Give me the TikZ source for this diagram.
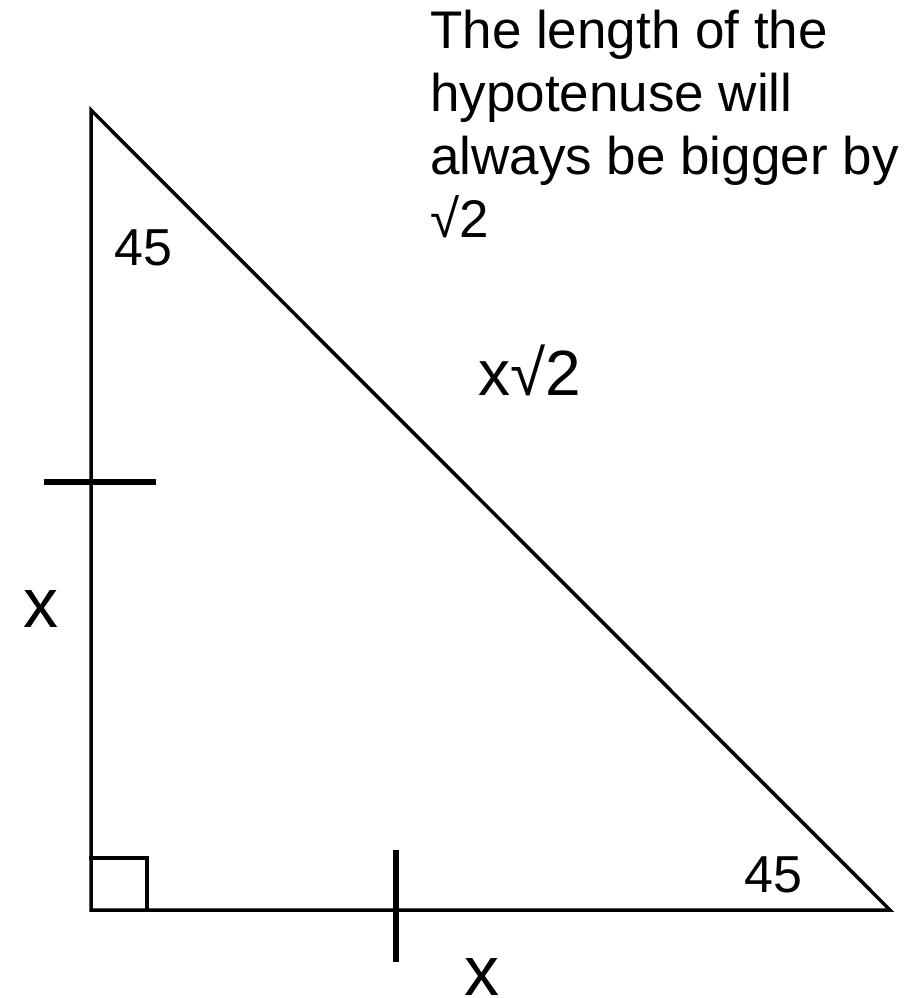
\documentclass[tikz,border=0pt]{standalone}
\usepackage{fontspec}
\setmainfont{Liberation Sans}
\begin{document}
\begin{tikzpicture}[x=1pt,y=-1pt,
  side/.style={line width=3.5pt, line join=miter},
  rbox/.style={line width=4pt},
  tick/.style={line width=6.5pt},
  lbl/.style={inner sep=0pt, font=\fontsize{52}{62}\selectfont},
  bigx/.style={inner sep=0pt, font=\fontsize{70}{80}\selectfont},
  note/.style={inner sep=0pt, align=left, font=\fontsize{53}{63}\selectfont}]
\useasboundingbox (0,0) rectangle (919,998);
\coordinate (A) at (91,110);
\coordinate (B) at (91,910);
\coordinate (C) at (890,910);
\coordinate (r1) at (89,858);
\coordinate (r2) at (147,858);
\coordinate (r3) at (147,910);
\coordinate (t1) at (44,482);
\coordinate (t2) at (156,482);
\coordinate (u1) at (396,850);
\coordinate (u2) at (396,962);
\draw[side] (A) -- (B) -- (C) -- cycle;
\draw[rbox] (r1) -- (r2) -- (r3);
\draw[tick] (t1) -- (t2);
\draw[tick] (u1) -- (u2);
\node[lbl, anchor=base west] (a1) at (114,265) {45};
\node[lbl, anchor=base west] (a2) at (744,892) {45};
\node[lbl, anchor=base west, font=\fontsize{64}{74}\selectfont] (hyp) at (478,395) {x√2};
\node[bigx] (xl) at (41,609) {x};
\node[bigx] (xb) at (482,977) {x};
\node[note, anchor=north west] (txt) at (430,10) {The length of the\\hypotenuse will\\always be bigger by\\√2};
\end{tikzpicture}
\end{document}
